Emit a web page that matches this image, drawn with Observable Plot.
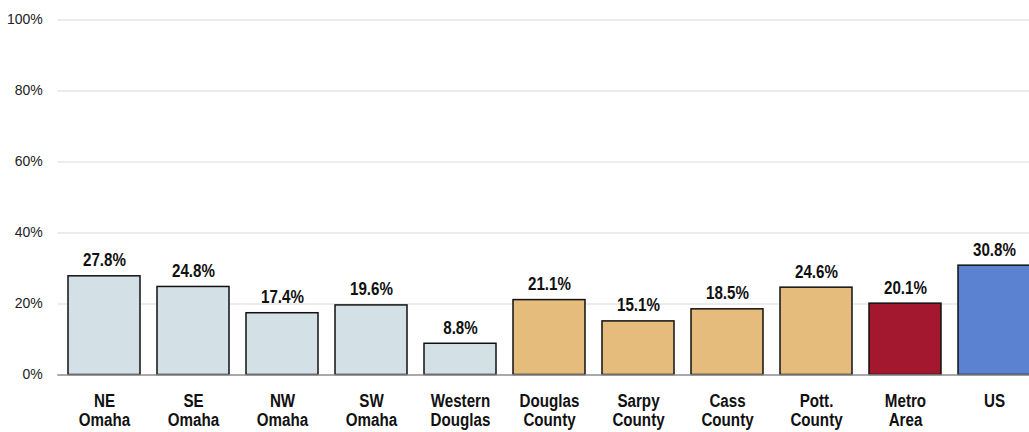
<!DOCTYPE html>
<html>
<head>
<meta charset="utf-8">
<script src="https://cdn.jsdelivr.net/npm/d3@7"></script>
<script src="https://cdn.jsdelivr.net/npm/@observablehq/plot@0.6"></script>
<style>
  html, body { margin: 0; padding: 0; background: #fff; overflow: hidden; }
  #chart svg { overflow: visible; max-width: none !important; }
</style>
</head>
<body>
<div id="chart"></div>
<script>
const categories = ["NE\nOmaha", "SE\nOmaha", "NW\nOmaha", "SW\nOmaha", "Western\nDouglas", "Douglas\nCounty", "Sarpy\nCounty", "Cass\nCounty", "Pott.\nCounty", "Metro\nArea", "US"];
const values = [27.8, 24.8, 17.4, 19.6, 8.8, 21.1, 15.1, 18.5, 24.6, 20.1, 30.8];
const groups = ["sub", "sub", "sub", "sub", "sub", "county", "county", "county", "county", "metro", "us"];
const groupNames = ["sub", "county", "metro", "us"];
const groupColors = ["#d3e1e6", "#e6bc7c", "#a3182f", "#5b82d1"];
const yTicks = [0, 20, 40, 60, 80, 100];

const data = categories.map((c, i) => ({category: c, value: values[i], group: groups[i]}));

const chart = Plot.plot({
  width: 1040,
  height: 432,
  marginLeft: 57.3,
  marginRight: 0,
  marginTop: 19.5,
  marginBottom: 57.5,
  style: {fontFamily: "'Liberation Sans', Arial, sans-serif", background: "#fff", maxWidth: "none"},
  x: {domain: categories, paddingInner: 0.19, paddingOuter: 0.095, axis: null},
  y: {domain: [0, 100]},
  color: {domain: groupNames, range: groupColors},
  marks: [
    Plot.ruleY(yTicks.filter(d => d > 0), {stroke: "#d9d9d9", strokeWidth: 1}),
    Plot.axisY(yTicks, {tickSize: 0, tickPadding: 15, tickFormat: d => d + "%", fontSize: 14, fill: "#222", label: null}),
    Plot.barY(data, {x: "category", y: "value", fill: "group", stroke: "#111", strokeWidth: 1.5}),
    Plot.ruleY([0], {stroke: "#8c8c8c", strokeWidth: 1.5}),
    Plot.text(data, {x: "category", y: "value", text: d => d.value.toFixed(1) + "%", lineAnchor: "bottom", dy: -10, fontSize: 18.5, fontWeight: "bold", fill: "#111", className: "narrow"}),
    Plot.text(data, {x: "category", y: 0, text: "category", lineAnchor: "top", dy: 17.8, fontSize: 18.5, fontWeight: "bold", fill: "#111", lineHeight: 1.045, className: "narrow"})
  ]
});
// condense bold labels horizontally (narrow font look)
d3.select(chart).selectAll(".narrow text").each(function() {
  const t = this.getAttribute("transform") || "";
  this.setAttribute("transform", t + " scale(0.82,1)");
});
document.getElementById("chart").appendChild(chart);
</script>
</body>
</html>
